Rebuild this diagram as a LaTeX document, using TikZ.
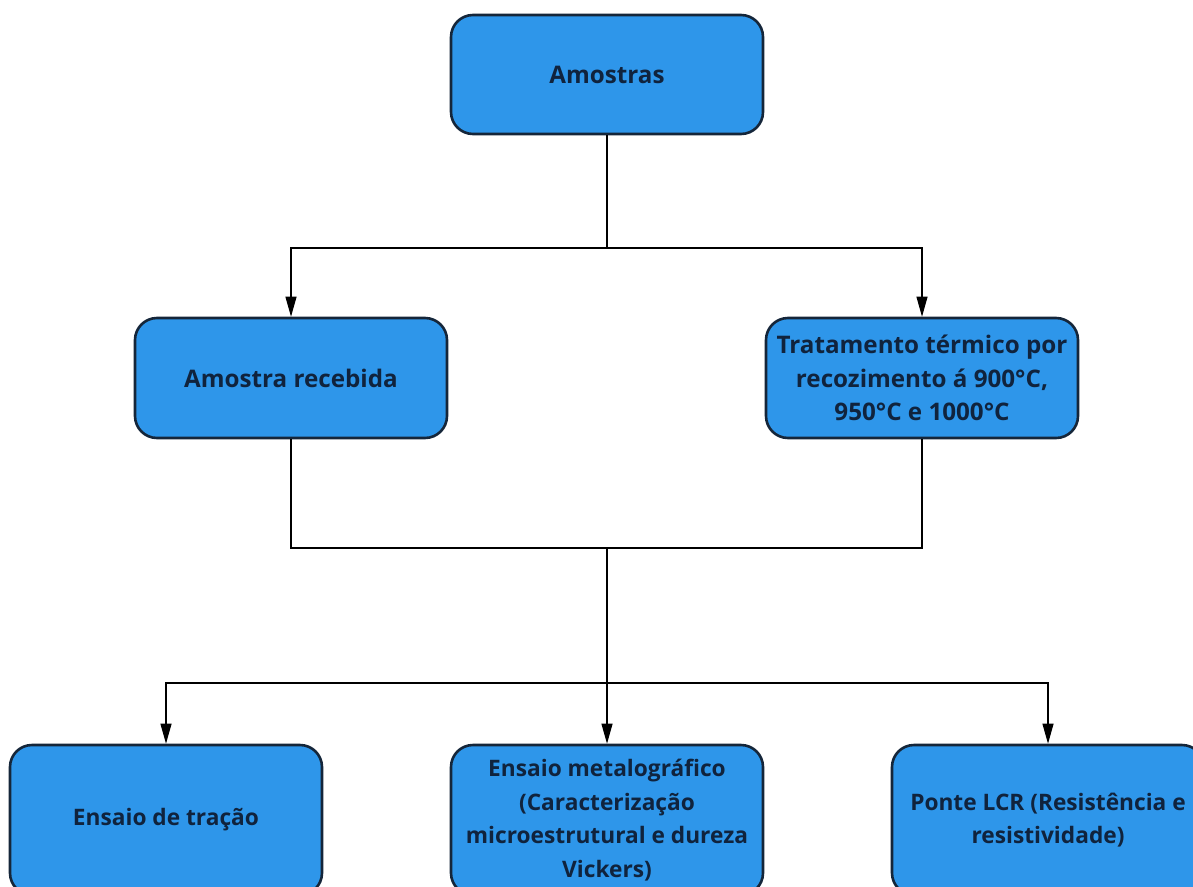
\documentclass[tikz,border=0pt]{standalone}
\usepackage{fontspec}
\setmainfont{Open Sans}
\usetikzlibrary{arrows.meta}
\definecolor{boxfill}{HTML}{2E96EA}
\definecolor{boxline}{HTML}{15263A}
\definecolor{txt}{HTML}{10233D}
\tikzset{
  box/.style={draw=boxline, line width=2.6pt, fill=boxfill, rounded corners=22pt,
    minimum width=312pt, inner sep=0pt, align=center, text=txt,
    font=\fontsize{24.2}{33.5}\selectfont\bfseries},
  smallbox/.style={box, font=\fontsize{22.7}{33.5}\selectfont\bfseries},
  conn/.style={draw=black, line width=1.1pt},
  arr/.style={conn, -{Triangle[length=20pt,width=11pt]}}
}
\begin{document}
\begin{tikzpicture}[x=1pt,y=-1pt]
\useasboundingbox (0,0) rectangle (1193,886);
\clip (0,0) rectangle (1193,886);
\fill[white] (0,0) rectangle (1193,886);
\node[box, minimum height=119pt] (a) at (607,74.5) {Amostras};
\node[box, minimum height=120pt] (b) at (291,378) {Amostra recebida};
\node[box, minimum height=120pt] (c) at (922,378) {Tratamento térmico por\\recozimento á 900°C,\\950°C e 1000°C};
\node[smallbox, minimum height=150pt] (d) at (166,820) {Ensaio de tração};
\node[smallbox, minimum height=150pt] (e) at (607,820) {Ensaio metalográfico\\(Caracterização\\microestrutural e dureza\\Vickers)};
\node[smallbox, minimum height=150pt] (f) at (1048,820) {Ponte LCR (Resistência e\\resistividade)};
\coordinate (s1) at (607,248);
\coordinate (s2) at (607,548);
\coordinate (s3) at (607,683);
\draw[conn] (a.south) -- (s1);
\draw[arr] (s1) -| (b.north);
\draw[arr] (s1) -| (c.north);
\draw[conn] (b.south) |- (s2);
\draw[conn] (c.south) |- (s2);
\draw[arr] (s2) -- (e.north);
\draw[arr] (s3) -| (d.north);
\draw[arr] (s3) -| (f.north);
\end{tikzpicture}
\end{document}
